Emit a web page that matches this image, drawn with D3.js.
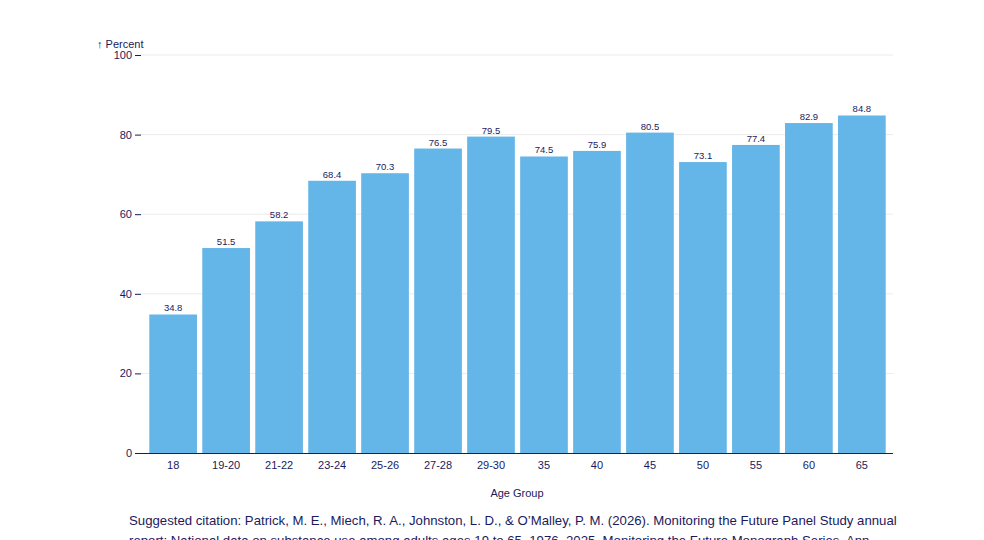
<!DOCTYPE html>
<html lang="en">
<head>
  <meta charset="utf-8">
  <title>Percent by Age Group</title>
  <style>
    body { margin: 0; background: #fff; }
    #chart { position: relative; width: 984px; height: 540px; overflow: hidden; }
    .citation {
      position: absolute; left: 129px; top: 511px; width: 772px;
      font-family: "Liberation Sans", Arial, sans-serif; font-size: 13.2px;
      line-height: 20px; color: #1b1a5c;
    }
  </style>
</head>
<body>
<div id="chart"></div>
<script src="https://cdnjs.cloudflare.com/ajax/libs/d3/7.8.5/d3.min.js"></script>
<script>
  const ageGroups = ["18", "19-20", "21-22", "23-24", "25-26", "27-28", "29-30",
                     "35", "40", "45", "50", "55", "60", "65"];
  const percents = [34.8, 51.5, 58.2, 68.4, 70.3, 76.5, 79.5,
                    74.5, 75.9, 80.5, 73.1, 77.4, 82.9, 84.8];
  const yTicks = [0, 20, 40, 60, 80, 100];

  const width = 984, height = 540;
  const margin = {top: 55, right: 91, bottom: 87, left: 141};
  const ink = "#1b1a5c";
  const font = "Liberation Sans, Arial, sans-serif";

  const data = ageGroups.map((g, i) => ({group: g, value: percents[i]}));

  const svg = d3.select("#chart").append("svg")
      .attr("width", width).attr("height", height)
      .style("position", "absolute").style("left", 0).style("top", 0);

  const x = d3.scaleBand()
      .domain(ageGroups)
      .range([margin.left + 3, width - margin.right - 2])
      .paddingInner(0.1).paddingOuter(0.1);

  const y = d3.scaleLinear()
      .domain([0, 100])
      .range([height - margin.bottom, margin.top]);

  // grid lines
  svg.append("g")
    .selectAll("line").data(yTicks.slice(1)).join("line")
      .attr("x1", margin.left).attr("x2", width - margin.right)
      .attr("y1", d => y(d)).attr("y2", d => y(d))
      .attr("stroke", "#ebebeb").attr("stroke-width", 1);

  // y axis
  const yAxis = svg.append("g")
      .attr("transform", `translate(${margin.left},0)`)
      .call(d3.axisLeft(y).tickValues(yTicks).tickSize(6).tickPadding(3))
      .call(g => g.select(".domain").remove());
  yAxis.selectAll("line").attr("stroke", ink);
  yAxis.selectAll("text").attr("fill", ink)
      .style("font-family", font).style("font-size", "11px");

  svg.append("text")
      .attr("x", 97).attr("y", 48)
      .attr("fill", ink)
      .style("font-family", font).style("font-size", "11px")
      .text("↑ Percent");

  // bars
  svg.append("g")
    .selectAll("rect").data(data).join("rect")
      .attr("x", d => x(d.group))
      .attr("width", x.bandwidth())
      .attr("y", d => y(d.value))
      .attr("height", d => y(0) - y(d.value))
      .attr("fill", "#64b6e8");

  // value labels
  svg.append("g")
    .selectAll("text").data(data).join("text")
      .attr("x", d => x(d.group) + x.bandwidth() / 2)
      .attr("y", d => y(d.value) - 3)
      .attr("text-anchor", "middle")
      .attr("fill", ink)
      .style("font-family", font).style("font-size", "9.5px")
      .text(d => d.value.toFixed(1));

  // x axis
  const xAxis = svg.append("g")
      .attr("transform", `translate(0,${y(0)})`)
      .call(d3.axisBottom(x).tickSize(0).tickPadding(8));
  xAxis.select(".domain")
      .attr("d", `M${margin.left},0.5H${width - margin.right}`)
      .attr("stroke", ink).attr("stroke-width", 1.2);
  xAxis.selectAll("text").attr("fill", ink)
      .style("font-family", font).style("font-size", "11px");

  svg.append("text")
      .attr("x", (margin.left + width - margin.right) / 2)
      .attr("y", 497)
      .attr("text-anchor", "middle")
      .attr("fill", ink)
      .style("font-family", font).style("font-size", "11px")
      .text("Age Group");

  d3.select("#chart").append("div")
      .attr("class", "citation")
      .text("Suggested citation: Patrick, M. E., Miech, R. A., Johnston, L. D., & O\u2019Malley, P. M. (2026). Monitoring the Future Panel Study annual report: National data on substance use among adults ages 19 to 65, 1976\u20132025. Monitoring the Future Monograph Series. Ann Arbor, MI: Institute for Social Research, The University of Michigan.");
</script>
</body>
</html>
